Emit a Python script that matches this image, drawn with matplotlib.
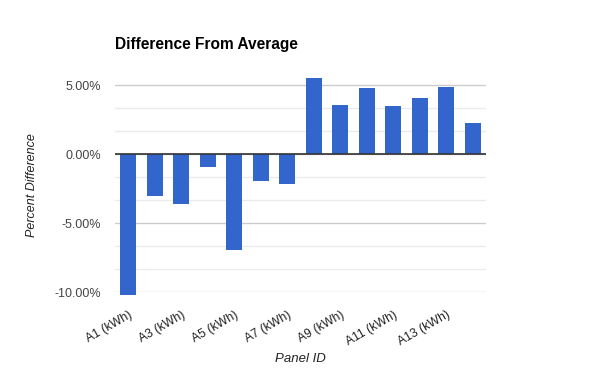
import numpy as np
import matplotlib.pyplot as plt
from matplotlib.ticker import FuncFormatter, MultipleLocator

plt.rcParams['font.family'] = ['Liberation Sans', 'DejaVu Sans']

# panel ids and percent difference from average
panels = [f"A{i} (kWh)" for i in range(1, 15)]
diff = [-10.17, -2.99, -3.57, -0.89, -6.91, -1.91, -2.13,
        5.53, 3.57, 4.81, 3.50, 4.08, 4.88, 2.29]

fig = plt.figure(figsize=(6, 3.71), dpi=100)
ax = fig.add_axes([0.192, 0.212, 0.618, 0.58])

x = np.arange(len(panels))
ax.bar(x, diff, width=0.6, color='#3366cc', zorder=3, clip_on=False)

ax.set_xlim(-0.5, len(panels) - 0.5)
ax.set_ylim(-10, 5.6)

ax.yaxis.set_major_locator(MultipleLocator(5))
ax.yaxis.set_minor_locator(MultipleLocator(5 / 3))
ax.yaxis.set_major_formatter(FuncFormatter(lambda v, p: f"{v:.2f}%"))
ax.grid(True, which='major', axis='y', color='#cccccc', linewidth=1, zorder=0)
ax.grid(True, which='minor', axis='y', color='#ebebeb', linewidth=1, zorder=0)
ax.axhline(0, color='#333333', linewidth=1.2, zorder=4)

ax.set_xticks(x[::2])
ax.set_xticklabels(panels[::2], rotation=30, ha='right', rotation_mode='anchor',
                   fontsize=8.8, color='#222222')
ax.tick_params(axis='x', length=0, pad=12)
ax.tick_params(axis='y', which='both', length=0, pad=10, labelsize=9, labelcolor='#444444')

for s in ax.spines.values():
    s.set_visible(False)

ax.set_xlabel("Panel ID", style='italic', fontsize=9.5, color='#222222', labelpad=3)
ax.set_ylabel("Percent Difference", style='italic', fontsize=9, color='#222222', labelpad=12)

fig.text(115 / 600, 1 - 44 / 371, "Difference From Average", fontsize=11.2,
         fontweight='bold', va='center', ha='left')

fig.savefig('out.png', dpi=100)
